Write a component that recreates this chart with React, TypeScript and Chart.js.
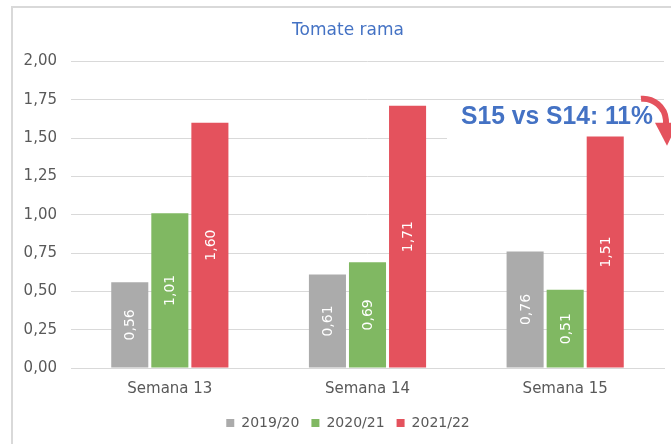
import React, { useEffect, useRef } from "react";
import { Chart, registerables } from "chart.js";

Chart.register(...registerables);

const categories = ["Semana 13", "Semana 14", "Semana 15"];
const seriesLabels = ["2019/20", "2020/21", "2021/22"];
const values2019 = [0.56, 0.61, 0.76];
const values2020 = [1.01, 0.69, 0.51];
const values2021 = [1.6, 1.71, 1.51];
const seriesColors = ["#ababab", "#80b862", "#e4525d"];
const titleText = "Tomate rama";
const annotationText = "S15 vs S14: 11%";

const FONT = "'DejaVu Sans', sans-serif";
const fmt = (v: number) => v.toFixed(2).replace(".", ",");

const framePlugin = {
  id: "frame",
  beforeDraw(chart: any) {
    const ctx = chart.ctx;
    ctx.save();
    ctx.fillStyle = "#ffffff";
    ctx.fillRect(0, 0, chart.width, chart.height);
    ctx.strokeStyle = "#d9d9d9";
    ctx.lineWidth = 2;
    ctx.strokeRect(12, 7, chart.width + 20, chart.height + 20);
    ctx.restore();
  },
};

const annotationPlugin = {
  id: "annot",
  beforeDatasetsDraw(chart: any) {
    const ctx = chart.ctx;
    const y = chart.scales.y;
    const top = y.getPixelForValue(1.75) + 1.5;
    const bottom = y.getPixelForValue(1.5) + 1.5;
    ctx.save();
    ctx.fillStyle = "#ffffff";
    ctx.fillRect(447, top, chart.width, bottom - top);
    ctx.restore();
  },
  afterDatasetsDraw(chart: any) {
    const ctx = chart.ctx;
    const y = chart.scales.y;
    const top = y.getPixelForValue(1.75);
    ctx.save();
    ctx.fillStyle = "#4472c4";
    ctx.font = "bold 25px 'Liberation Sans', sans-serif";
    ctx.textBaseline = "alphabetic";
    ctx.textAlign = "left";
    ctx.fillText(annotationText, 461, top + 24, 192);
    // curved arrow
    ctx.strokeStyle = "#e4525d";
    ctx.fillStyle = "#e4525d";
    ctx.lineWidth = 6;
    ctx.beginPath();
    const cx = 643, cy = top + 22, r = 23;
    ctx.arc(cx, cy, r, (-95 * Math.PI) / 180, (5 * Math.PI) / 180);
    ctx.stroke();
    ctx.beginPath();
    ctx.moveTo(cx + r - 11, cy + 1);
    ctx.lineTo(cx + r + 12, cy + 1);
    ctx.lineTo(cx + r + 1, cy + 24);
    ctx.closePath();
    ctx.fill();
    ctx.restore();
  },
};

const valueLabelPlugin = {
  id: "valueLabels",
  afterDatasetsDraw(chart: any) {
    const ctx = chart.ctx;
    ctx.save();
    ctx.fillStyle = "#ffffff";
    ctx.font = `14px ${FONT}`;
    ctx.textAlign = "center";
    ctx.textBaseline = "middle";
    chart.data.datasets.forEach((ds: any, di: number) => {
      const meta = chart.getDatasetMeta(di);
      meta.data.forEach((bar: any, i: number) => {
        const v = ds.data[i];
        const cyy = (bar.y + bar.base) / 2;
        ctx.save();
        ctx.translate(bar.x, cyy);
        ctx.rotate(-Math.PI / 2);
        ctx.fillText(fmt(v), 0, 1);
        ctx.restore();
      });
    });
    ctx.restore();
  },
};

export default function App() {
  const ref = useRef<HTMLCanvasElement | null>(null);
  useEffect(() => {
    if (!ref.current) return;
    const allValues = [values2019, values2020, values2021];
    const chart = new Chart(ref.current, {
      type: "bar",
      data: {
        labels: categories,
        datasets: seriesLabels.map((l, i) => ({
          label: l,
          data: allValues[i],
          backgroundColor: seriesColors[i],
          borderWidth: 0,
          categoryPercentage: 0.608,
          barPercentage: 0.925,
        })),
      },
      options: {
        animation: false,
        responsive: false,
        maintainAspectRatio: false,
        layout: { padding: { left: 12, right: 7, top: 0, bottom: 4 } },
        plugins: {
          title: {
            display: true,
            text: titleText,
            color: "#4472c4",
            font: { family: FONT, size: 17, weight: "normal" },
            padding: { top: 20, bottom: 21 },
          },
          legend: {
            position: "bottom",
            labels: {
              boxWidth: 8,
              boxHeight: 8,
              padding: 12,
              color: "#595959",
              font: { family: FONT, size: 14 },
            },
          },
          tooltip: { enabled: false },
        },
        scales: {
          x: {
            grid: { display: false },
            border: { color: "#d9d9d9" },
            ticks: { color: "#595959", font: { family: FONT, size: 15 }, padding: 4 },
            afterFit: (s: any) => {
              s.height = 36;
            },
          },
          y: {
            min: 0,
            max: 2,
            ticks: {
              stepSize: 0.25,
              color: "#595959",
              font: { family: FONT, size: 15 },
              padding: 14,
              callback: (v: any) => fmt(Number(v)),
            },
            grid: { color: "#d9d9d9", drawTicks: false },
            border: { display: false },
            afterFit: (s: any) => {
              s.width = 59;
            },
          },
          spacer: {
            type: "linear",
            position: "right",
            display: true,
            grid: { display: false, drawTicks: false },
            border: { display: false },
            ticks: { display: false },
            afterFit: (s: any) => {
              s.width = 20;
            },
          },
        },
      },
      plugins: [framePlugin, annotationPlugin, valueLabelPlugin],
    });
    return () => chart.destroy();
  }, []);
  return (
    <div style={{ position: "absolute", left: 0, top: 0, width: 671, height: 444, overflow: "hidden" }}>
      <canvas ref={ref} width={691} height={444} style={{ display: "block" }} />
    </div>
  );
}
